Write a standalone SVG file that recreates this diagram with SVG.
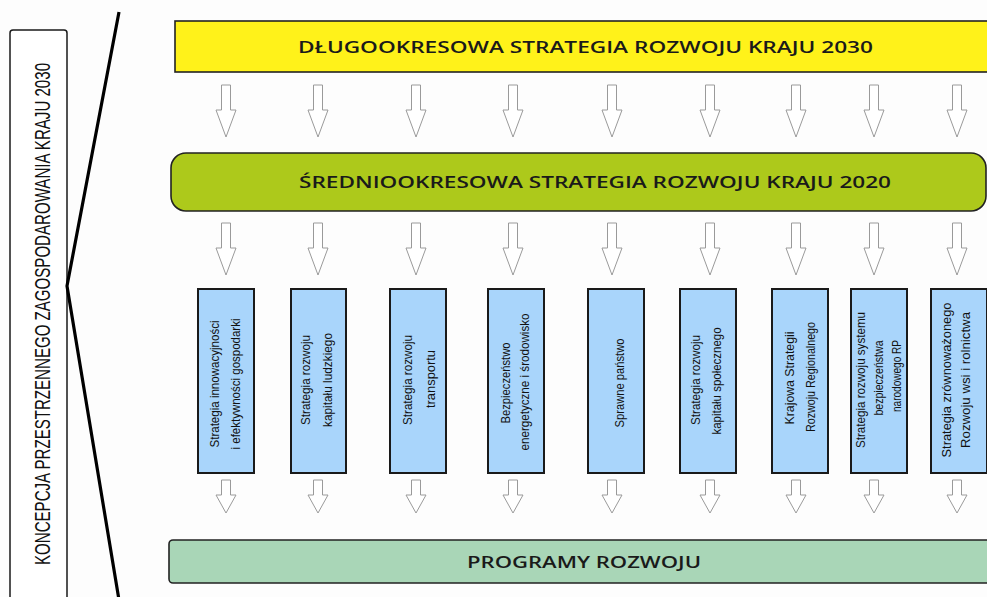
<svg xmlns="http://www.w3.org/2000/svg" width="987" height="597" viewBox="0 0 987 597">
<style>
.bg{fill:#fdfdfd}
.lbox{fill:#fff;stroke:#1a1a1a;stroke-width:1.5}
.ltxt{font-family:"Liberation Sans","Open Sans",sans-serif;font-size:22px;fill:#111}
.band{stroke:#222;stroke-width:1.6}
.head{font-family:"Open Sans","Liberation Sans",sans-serif;font-weight:600;font-size:16px;fill:#1a1a1a;text-anchor:middle}
.box{fill:#a9d5fb;stroke:#1a1a1a;stroke-width:2}
.btxt{font-family:"Liberation Sans","DejaVu Sans",sans-serif;font-size:12px;fill:#111;text-anchor:middle}
.arr{fill:#fff;stroke:#9a9a9a;stroke-width:1}
</style>
<defs>
<path id="arrL" class="arr" d="M-4.5,0 H4.5 V25 H10 L0,52 L-10,25 H-4.5 Z"/>
<path id="arrS" class="arr" d="M-4.5,0 H4.5 V15 H10 L0,33 L-10,15 H-4.5 Z"/>
</defs>
<rect class="bg" x="0" y="0" width="987" height="597"/>

<g id="koncepcja">
<rect class="lbox" x="10" y="30" width="57" height="590" rx="3"/>
<text class="ltxt" transform="translate(50,314) rotate(-90)" text-anchor="middle" textLength="502" lengthAdjust="spacingAndGlyphs">KONCEPCJA PRZESTRZENNEGO ZAGOSPODAROWANIA KRAJU 2030</text>
</g>

<g id="bracket">
<polyline points="119,12 67,286 119,600" fill="none" stroke="#000" stroke-width="3.2"/>
</g>

<g id="dsrk">
<rect class="band" x="175" y="21" width="830" height="51" fill="#fff21a"/>
<text class="head" x="585.5" y="53" textLength="575" lengthAdjust="spacingAndGlyphs">DŁUGOOKRESOWA STRATEGIA ROZWOJU KRAJU 2030</text>
</g>

<g id="ssrk">
<rect class="band" x="171" y="153" width="815" height="58" rx="15" fill="#adc91b"/>
<text class="head" x="595" y="188" textLength="592" lengthAdjust="spacingAndGlyphs">ŚREDNIOOKRESOWA STRATEGIA ROZWOJU KRAJU 2020</text>
</g>

<g id="programy">
<rect class="band" x="169" y="540" width="830" height="43" rx="4" fill="#a9d6b7"/>
<text class="head" x="584" y="568" textLength="234" lengthAdjust="spacingAndGlyphs">PROGRAMY ROZWOJU</text>
</g>

<g id="s1">
<rect class="box" x="198" y="289" width="56" height="184"/>
<text class="btxt" transform="translate(219,384) rotate(-90)" textLength="127" lengthAdjust="spacingAndGlyphs">Strategia innowacyjności</text>
<text class="btxt" transform="translate(240,384) rotate(-90)" textLength="131" lengthAdjust="spacingAndGlyphs">i efektywności gospodarki</text>
</g>
<g id="s2">
<rect class="box" x="291" y="289" width="55" height="184"/>
<text class="btxt" transform="translate(310,380) rotate(-90)" textLength="90" lengthAdjust="spacingAndGlyphs">Strategia rozwoju</text>
<text class="btxt" transform="translate(332,380) rotate(-90)" textLength="94" lengthAdjust="spacingAndGlyphs">kapitału ludzkiego</text>
</g>
<g id="s3">
<rect class="box" x="390" y="289" width="56" height="184"/>
<text class="btxt" transform="translate(412,380) rotate(-90)" textLength="90" lengthAdjust="spacingAndGlyphs">Strategia rozwoju</text>
<text class="btxt" transform="translate(435,379) rotate(-90)" textLength="58" lengthAdjust="spacingAndGlyphs">transportu</text>
</g>
<g id="s4">
<rect class="box" x="488" y="289" width="56" height="184"/>
<text class="btxt" transform="translate(510,383) rotate(-90)" textLength="81" lengthAdjust="spacingAndGlyphs">Bezpieczeństwo</text>
<text class="btxt" transform="translate(529,382) rotate(-90)" textLength="137" lengthAdjust="spacingAndGlyphs">energetyczne i środowisko</text>
</g>
<g id="s5">
<rect class="box" x="588" y="289" width="56" height="184"/>
<text class="btxt" transform="translate(624,383) rotate(-90)" textLength="89" lengthAdjust="spacingAndGlyphs">Sprawne państwo</text>
</g>
<g id="s6">
<rect class="box" x="680" y="289" width="56" height="184"/>
<text class="btxt" transform="translate(700,380) rotate(-90)" textLength="90" lengthAdjust="spacingAndGlyphs">Strategia rozwoju</text>
<text class="btxt" transform="translate(721,381) rotate(-90)" textLength="107" lengthAdjust="spacingAndGlyphs">kapitału społecznego</text>
</g>
<g id="s7">
<rect class="box" x="772" y="289" width="56" height="184"/>
<text class="btxt" transform="translate(794,378) rotate(-90)" textLength="93" lengthAdjust="spacingAndGlyphs">Krajowa Strategii</text>
<text class="btxt" transform="translate(815,377) rotate(-90)" textLength="110" lengthAdjust="spacingAndGlyphs">Rozwoju Regionalnego</text>
</g>
<g id="s8">
<rect class="box" x="851" y="289" width="56" height="184"/>
<text class="btxt" transform="translate(865,380) rotate(-90)" textLength="136" lengthAdjust="spacingAndGlyphs">Strategia rozwoju systemu</text>
<text class="btxt" transform="translate(883,378) rotate(-90)" textLength="75" lengthAdjust="spacingAndGlyphs">bezpieczeństwa</text>
<text class="btxt" transform="translate(901,376) rotate(-90)" textLength="72" lengthAdjust="spacingAndGlyphs">narodowego RP</text>
</g>
<g id="s9">
<rect class="box" x="931" y="289" width="56" height="184"/>
<text class="btxt" transform="translate(951,380) rotate(-90)" textLength="155" lengthAdjust="spacingAndGlyphs">Strategia zrównoważonego</text>
<text class="btxt" transform="translate(970,380) rotate(-90)" textLength="136" lengthAdjust="spacingAndGlyphs">Rozwoju  wsi i rolnictwa</text>
</g>

<g id="connectors">
<use href="#arrL" x="226" y="85"/>
<use href="#arrL" x="318" y="85"/>
<use href="#arrL" x="416" y="85"/>
<use href="#arrL" x="513" y="85"/>
<use href="#arrL" x="612" y="85"/>
<use href="#arrL" x="710" y="85"/>
<use href="#arrL" x="796" y="85"/>
<use href="#arrL" x="874" y="85"/>
<use href="#arrL" x="957" y="85"/>
<use href="#arrL" x="226" y="223"/>
<use href="#arrL" x="318" y="223"/>
<use href="#arrL" x="416" y="223"/>
<use href="#arrL" x="513" y="223"/>
<use href="#arrL" x="612" y="223"/>
<use href="#arrL" x="710" y="223"/>
<use href="#arrL" x="796" y="223"/>
<use href="#arrL" x="874" y="223"/>
<use href="#arrL" x="957" y="223"/>
<use href="#arrS" x="226" y="480"/>
<use href="#arrS" x="318" y="480"/>
<use href="#arrS" x="416" y="480"/>
<use href="#arrS" x="513" y="480"/>
<use href="#arrS" x="612" y="480"/>
<use href="#arrS" x="710" y="480"/>
<use href="#arrS" x="796" y="480"/>
<use href="#arrS" x="874" y="480"/>
<use href="#arrS" x="957" y="480"/>
</g>
</svg>
